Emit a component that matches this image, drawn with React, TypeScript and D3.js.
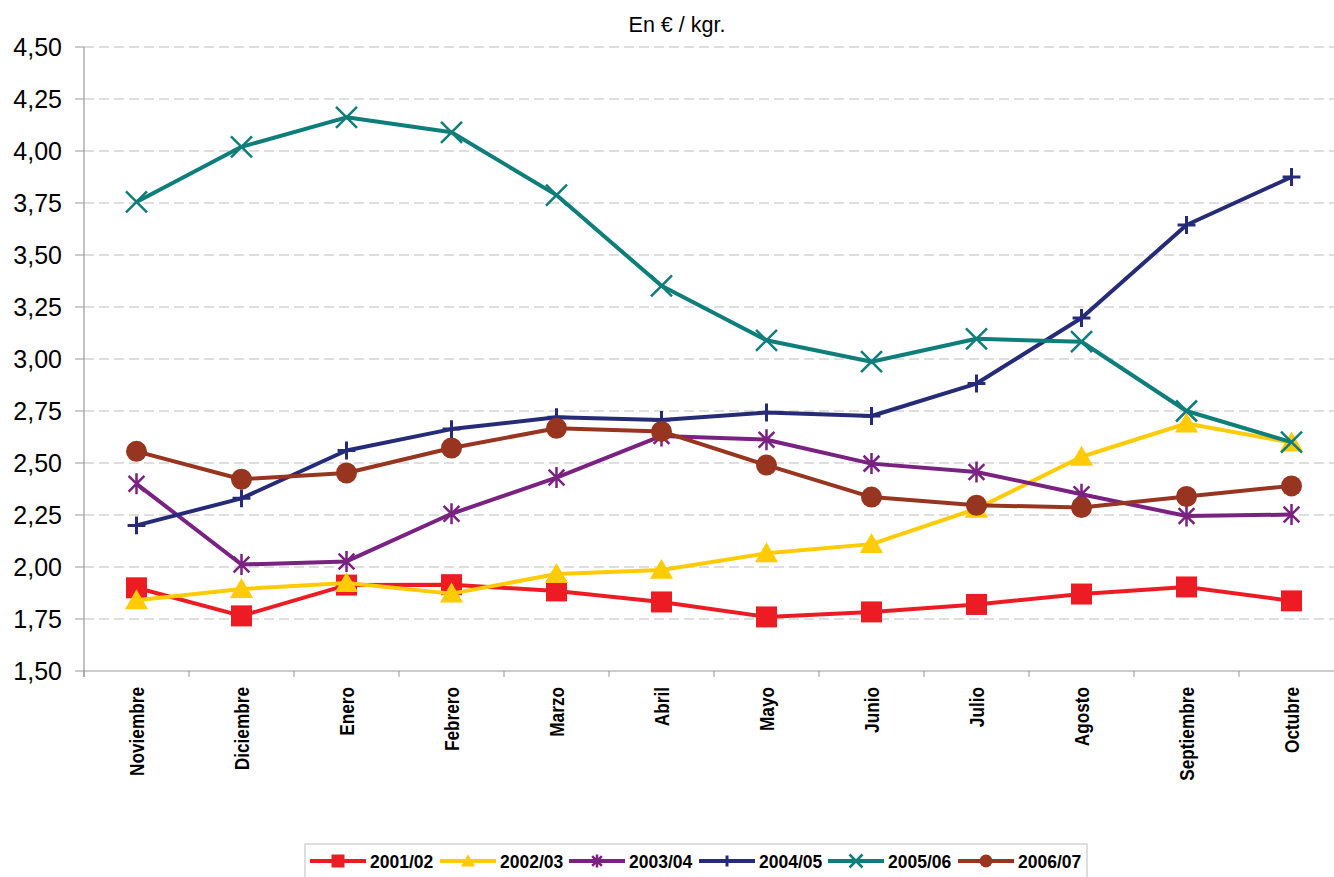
import React from "react";
import * as d3 from "d3";

const months = ["Noviembre", "Diciembre", "Enero", "Febrero", "Marzo", "Abril", "Mayo", "Junio", "Julio", "Agosto", "Septiembre", "Octubre"];
const yTicks = [1.5, 1.75, 2, 2.25, 2.5, 2.75, 3, 3.25, 3.5, 3.75, 4, 4.25, 4.5];

const s2001 = [1.9, 1.765, 1.913, 1.915, 1.885, 1.832, 1.76, 1.784, 1.82, 1.87, 1.904, 1.837];
const s2002 = [1.84, 1.894, 1.923, 1.872, 1.966, 1.986, 2.066, 2.11, 2.28, 2.53, 2.69, 2.598];
const s2003 = [2.4, 2.012, 2.027, 2.256, 2.43, 2.63, 2.612, 2.497, 2.457, 2.35, 2.245, 2.252];
const s2004 = [2.2, 2.33, 2.56, 2.663, 2.72, 2.707, 2.743, 2.726, 2.882, 3.197, 3.644, 3.875];
const s2005 = [3.755, 4.02, 4.162, 4.09, 3.788, 3.352, 3.09, 2.987, 3.097, 3.083, 2.75, 2.6];
const s2006 = [2.556, 2.422, 2.452, 2.572, 2.667, 2.652, 2.49, 2.336, 2.297, 2.286, 2.339, 2.39];

const seriesNames = ["2001/02", "2002/03", "2003/04", "2004/05", "2005/06", "2006/07"];
const seriesValues = [s2001, s2002, s2003, s2004, s2005, s2006];
const seriesColors = ["#ED1C24", "#FFCB05", "#7A2281", "#262B78", "#0E7E7A", "#983520"];
const seriesMarkers = ["square", "triangle", "asterisk", "plus", "times", "circle"];

const W = 1334;
const H = 877;
const left = 84;
const right = 1344;
const top = 47;
const bottom = 671;

const font = "'Liberation Sans', Arial, sans-serif";

function Marker({ type, x, y, color, s }: { type: string; x: number; y: number; color: string; s: number }) {
  const h = s / 2;
  if (type === "square") {
    return <rect x={x - h} y={y - h} width={s} height={s} fill={color} />;
  }
  if (type === "triangle") {
    return <path d={`M${x},${y - h * 1.05} L${x + h * 1.1},${y + h * 0.85} L${x - h * 1.1},${y + h * 0.85} Z`} fill={color} />;
  }
  if (type === "circle") {
    return <circle cx={x} cy={y} r={h} fill={color} />;
  }
  if (type === "plus") {
    const a = h * 0.85;
    return <path d={`M${x - a},${y} L${x + a},${y} M${x},${y - a} L${x},${y + a}`} stroke={color} strokeWidth={3} fill="none" />;
  }
  if (type === "times") {
    return <path d={`M${x - h},${y - h} L${x + h},${y + h} M${x - h},${y + h} L${x + h},${y - h}`} stroke={color} strokeWidth={2.5} fill="none" />;
  }
  // asterisk
  const a = h * 0.75;
  return (
    <path
      d={`M${x - a},${y - a} L${x + a},${y + a} M${x - a},${y + a} L${x + a},${y - a} M${x},${y - h} L${x},${y + h}`}
      stroke={color}
      strokeWidth={2.5}
      fill="none"
    />
  );
}

export default function App() {
  const xScale = d3.scaleBand().domain(months).range([left, right]);
  const xc = (m: string) => (xScale(m) as number) + xScale.bandwidth() / 2;
  const yScale = d3.scaleLinear().domain([1.5, 4.5]).range([bottom, top]);

  const line = d3
    .line<number>()
    .x((_, i) => xc(months[i]))
    .y((d) => yScale(d));

  const legendX = [310, 440, 569, 699, 828, 958];

  return (
    <svg width={W} height={H} style={{ position: "absolute", left: 0, top: 0, background: "#fff" }}>
      <text x={677} y={32} textAnchor="middle" fontFamily={font} fontSize={21.5} fill="#000">
        En € / kgr.
      </text>

      {yTicks.map((t) => (
        <g key={t}>
          {t > 1.5 && (
            <line x1={left} x2={W} y1={yScale(t)} y2={yScale(t)} stroke="#BDBDBD" strokeWidth={1.2} strokeDasharray="10,5" />
          )}
          <line x1={left - 9} x2={left} y1={yScale(t)} y2={yScale(t)} stroke="#999" strokeWidth={1} />
          <text x={62} y={yScale(t)} dy="0.36em" textAnchor="end" fontFamily={font} fontSize={25} fill="#000">
            {d3.format(".2f")(t).replace(".", ",")}
          </text>
        </g>
      ))}

      <line x1={left} x2={left} y1={top} y2={bottom + 6} stroke="#999" strokeWidth={1.2} />
      <line x1={left} x2={W} y1={bottom} y2={bottom} stroke="#999" strokeWidth={1.2} />
      {months.map((m) => (
        <line key={m} x1={xScale(m) as number} x2={xScale(m) as number} y1={bottom} y2={bottom + 6} stroke="#999" strokeWidth={1} />
      ))}

      {months.map((m) => (
        <text
          key={m}
          transform={`translate(${xc(m) + 7},687) rotate(-90) scale(0.82,1)`}
          textAnchor="end"
          fontFamily={font}
          fontWeight="bold"
          fontSize={21}
          fill="#000"
        >
          {m}
        </text>
      ))}

      {seriesValues.map((vals, si) => (
        <g key={seriesNames[si]}>
          <path d={line(vals) || ""} fill="none" stroke={seriesColors[si]} strokeWidth={4} strokeLinejoin="round" />
          {vals.map((v, i) => (
            <Marker key={i} type={seriesMarkers[si]} x={xc(months[i])} y={yScale(v)} color={seriesColors[si]} s={21} />
          ))}
        </g>
      ))}

      <rect x={305} y={844} width={782} height={40} fill="#fff" stroke="#C8C8C8" strokeWidth={1.2} />
      {seriesNames.map((n, i) => (
        <g key={n}>
          <line x1={legendX[i]} x2={legendX[i] + 56} y1={861} y2={861} stroke={seriesColors[i]} strokeWidth={4} />
          <Marker type={seriesMarkers[i]} x={legendX[i] + 28} y={861} color={seriesColors[i]} s={13} />
          <text x={legendX[i] + 60} y={867.5} fontFamily={font} fontWeight="bold" fontSize={17.5} fill="#000">
            {n}
          </text>
        </g>
      ))}
    </svg>
  );
}
